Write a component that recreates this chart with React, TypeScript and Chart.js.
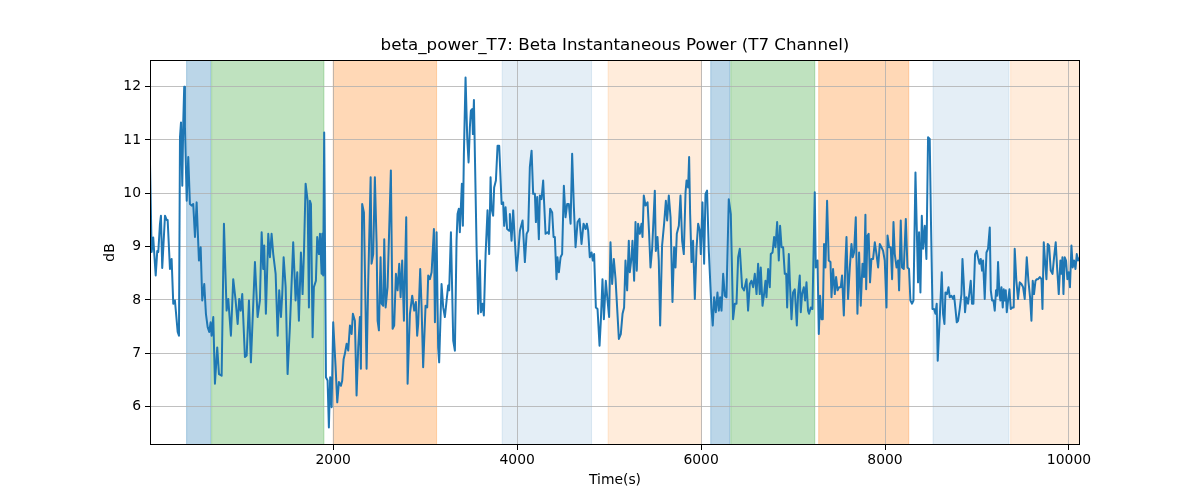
import { useEffect, useRef } from "react";
import { Chart, registerables } from "chart.js";

Chart.register(...registerables);
Chart.defaults.font.family = "'DejaVu Sans', sans-serif";

const chartTitle = "beta_power_T7: Beta Instantaneous Power (T7 Channel)";
const xLabel = "Time(s)";
const yLabel = "dB";
const xTicks = [2000, 4000, 6000, 8000, 10000];
const yTicks = [6, 7, 8, 9, 10, 11, 12];
const xMin = 8;
const xMax = 10120;
const yMin = 5.28;
const yMax = 12.5;

// time (s) of each sample
const timeSec = [
  8, 26, 43, 70, 87, 98, 116, 127, 141, 171, 189, 200, 225, 243, 261, 279, 309, 323, 334, 345,
  359, 370, 380, 388, 407, 424, 442, 461, 478, 497, 515, 540, 559, 576, 598, 616, 635, 652, 667, 678,
  696, 714, 739, 758, 787, 812, 841, 859, 888, 913, 939, 961, 978, 994, 1011, 1040, 1059, 1084, 1105, 1149,
  1178, 1203, 1222, 1239, 1250,
  1268, 1294, 1312, 1330, 1348, 1374, 1396, 1413, 1432, 1446, 1461, 1483, 1504, 1529, 1565, 1591, 1609, 1627, 1649, 1667,
  1682, 1700, 1722, 1736, 1747, 1758, 1776, 1790, 1812, 1826, 1845, 1856, 1874, 1881, 1891, 1902, 1921, 1939, 1953, 1967,
  1983, 2000, 2026, 2044, 2062, 2084, 2098, 2113, 2127, 2146, 2163, 2182, 2200, 2214, 2236, 2254, 2272, 2290, 2301, 2315,
  2334, 2363, 2381, 2407, 2417, 2435, 2453, 2472, 2483, 2497, 2515, 2526, 2544, 2555, 2570, 2591,
  2627, 2646, 2663, 2682, 2700, 2718, 2733, 2750, 2769, 2794, 2809, 2834, 2859, 2881, 2899, 2913, 2924, 2946, 2961, 2978,
  3004, 3022, 3033, 3051, 3070, 3095, 3106, 3124, 3141, 3152, 3178, 3196, 3214, 3233, 3250, 3261, 3280, 3305, 3323, 3341,
  3352, 3366, 3377, 3388, 3399, 3410, 3421, 3439, 3457, 3472, 3486, 3497, 3511, 3519, 3530, 3541, 3559, 3576, 3595, 3606,
  3624, 3638, 3657, 3678, 3696, 3711, 3722, 3739, 3750, 3769, 3787, 3805, 3831, 3848, 3859, 3874, 3891, 3913,
  3921, 3939, 3957, 3975, 3994, 4011, 4030, 4059, 4084, 4103, 4120, 4138, 4157, 4174, 4193, 4204, 4218, 4236, 4247, 4265,
  4283, 4294, 4309, 4331, 4345, 4359, 4381, 4396, 4410, 4428, 4439, 4454, 4472, 4489, 4508, 4526, 4544, 4562, 4581, 4598,
  4617, 4635, 4657, 4678, 4700, 4722, 4744, 4758, 4772, 4790, 4809, 4823, 4837, 4856, 4874, 4896, 4910, 4928, 4943, 4964,
  4983, 5000, 5015, 5033, 5051, 5070, 5087, 5106, 5127, 5146, 5163, 5178, 5196,
  5214, 5225, 5244, 5254, 5272, 5287, 5301, 5315, 5334, 5352, 5363, 5377, 5396, 5418, 5435, 5450, 5468, 5497, 5508, 5526,
  5540, 5555, 5576, 5598, 5617, 5631, 5649, 5668, 5689, 5707, 5722, 5736, 5758, 5776, 5794, 5812, 5831, 5842, 5859, 5870,
  5881, 5896, 5913, 5932, 5950, 5968, 5986, 5997, 6015, 6033, 6048, 6065, 6084, 6102, 6113, 6127, 6142, 6160, 6178, 6193,
  6207, 6222, 6240, 6258, 6276, 6301, 6323, 6348, 6367, 6385, 6403, 6421, 6446, 6468, 6494, 6511,
  6530, 6548, 6566, 6584, 6603, 6620, 6638, 6649, 6668, 6685, 6700, 6711, 6729, 6747, 6758, 6777, 6794, 6809, 6827, 6845,
  6859, 6875, 6892, 6910, 6925, 6936, 6954, 6965, 6983, 7000, 7019, 7041, 7055, 7073, 7084, 7098, 7117, 7131, 7146, 7163,
  7174, 7193, 7211, 7236, 7247, 7266, 7280, 7294, 7309, 7323, 7337, 7352, 7370, 7388, 7407, 7418, 7435, 7454, 7468, 7484,
  7501, 7519, 7533, 7552, 7570, 7581, 7598, 7617, 7635, 7649, 7663, 7682, 7700, 7718, 7736, 7755, 7772, 7787,
  7795, 7808, 7822, 7837, 7852, 7870, 7889, 7907, 7925, 7943, 7961, 7979, 7997, 8016, 8027, 8044, 8062, 8077, 8092, 8106,
  8125, 8142, 8153, 8171, 8185, 8204, 8226, 8244, 8261, 8276, 8294, 8309, 8331, 8345, 8359, 8370, 8385, 8400, 8414, 8432,
  8450, 8468, 8486, 8500, 8516, 8533, 8548, 8562, 8573, 8592, 8617, 8631, 8646, 8657, 8674, 8690, 8704, 8722, 8740, 8751,
  8766, 8780, 8794, 8812, 8831, 8842, 8856, 8870, 8885, 8903, 8918, 8932, 8946, 8961, 8979, 8997, 9011, 9027, 9041, 9055,
  9066, 9084, 9103, 9120, 9139,
  9150, 9164, 9179, 9193, 9207, 9218, 9229, 9244, 9255, 9266, 9280, 9291, 9302, 9313, 9324, 9338, 9353, 9367, 9385, 9399,
  9410, 9428, 9446, 9465, 9483, 9501, 9519, 9541, 9559, 9577, 9592, 9606, 9620, 9636, 9650, 9664, 9683, 9701, 9712, 9726,
  9740, 9755, 9769, 9784, 9802, 9821, 9838, 9856, 9871, 9889, 9907, 9918, 9929, 9940, 9954, 9968, 9983, 9997, 10011, 10027,
  10041, 10055, 10071, 10085, 10099, 10120,
];

// beta power (dB) at each sample
const betaDb = [
  10.55, 8.9, 9.17, 8.46, 8.92, 8.9, 9.42, 9.58, 8.6, 9.58, 9.5, 9.5, 8.58, 8.77, 7.93, 7.99, 7.4, 7.33, 11.05, 11.33,
  10.14, 11.36, 12.0, 11.24, 9.86, 10.68, 9.8, 9.77, 9.8, 9.18, 9.83, 8.74, 8.99, 7.99, 8.3, 7.74, 7.49, 7.4, 7.58, 7.33,
  7.68, 6.43, 7.11, 6.61, 6.58, 9.43, 7.8, 8.02, 7.33, 8.39, 7.99, 7.55, 8.02, 7.8, 8.11, 6.93, 6.96, 7.99, 6.83, 8.71,
  7.68, 7.99, 9.27, 8.58, 9.02,
  7.74, 9.24, 8.8, 9.24, 8.86, 8.49, 7.33, 8.18, 7.68, 8.11, 8.8, 8.24, 6.61, 7.49, 9.08, 7.99, 8.52, 7.61, 8.89, 8.11,
  8.89, 10.18, 9.86, 7.86, 9.86, 9.8, 7.3, 8.24, 8.36, 9.18, 8.86, 9.24, 8.49, 9.24, 8.46, 11.14, 6.55, 6.49, 5.61, 6.55,
  5.99, 7.58, 6.74, 6.08, 6.46, 6.39, 6.49, 6.89, 6.99, 7.18, 7.05, 7.52, 7.36, 7.74, 7.61, 6.21, 7.11, 7.68, 6.71, 9.8,
  9.64, 6.71, 8.36, 10.3, 8.68, 8.86, 10.3, 9.05, 7.61, 7.43, 8.8, 7.93, 7.89, 9.14, 7.86, 8.24,
  10.43, 7.46, 7.52, 8.49, 8.18, 8.68, 8.05, 8.74, 7.61, 9.55, 6.43, 7.74, 8.08, 7.8, 7.96, 7.33, 7.55, 8.58, 7.86, 6.74,
  7.89, 7.86, 8.46, 8.39, 8.52, 9.33, 7.58, 9.27, 7.11, 6.83, 8.3, 7.86, 7.68, 7.99, 8.27, 8.18, 9.27, 7.24, 7.05, 9.11,
  9.61, 9.71, 9.27, 9.74, 10.18, 9.39, 10.74, 12.17, 11.05, 10.58, 11.24, 11.55, 11.58, 11.11, 11.75, 10.68, 8.99, 7.74, 8.74, 7.77,
  7.93, 7.71, 8.86, 9.68, 8.86, 10.3, 9.71, 9.58, 10.11, 10.24, 10.89, 10.89, 9.8, 9.83, 9.39, 9.74, 9.33, 9.3,
  9.61, 9.11, 9.68, 9.11, 8.55, 8.86, 9.3, 9.49, 8.71, 9.24, 9.3, 10.49, 10.8, 9.99, 9.99, 9.46, 9.93, 9.14, 9.96, 9.89,
  10.24, 9.8, 9.24, 9.27, 9.24, 9.71, 9.64, 9.18, 9.18, 8.39, 8.8, 8.52, 8.8, 8.86, 10.14, 9.55, 9.8, 9.8, 9.43, 10.74,
  9.74, 8.99, 9.46, 9.52, 9.05, 9.43, 9.33, 9.43, 9.3, 8.8, 8.89, 8.74, 8.86, 7.86, 7.83, 7.14, 7.61, 8.39, 7.64, 8.36,
  7.99, 7.68, 9.08, 8.3, 8.77, 8.39, 7.86, 7.27, 7.36, 7.74, 7.86, 8.74, 8.18,
  9.11, 8.52, 8.8, 9.11, 8.36, 9.46, 8.55, 9.43, 9.24, 9.43, 9.18, 9.96, 9.77, 9.83, 9.24, 8.61, 8.96, 10.05, 8.92, 9.18,
  8.74, 7.52, 9.02, 9.43, 9.86, 9.49, 9.96, 9.55, 7.96, 8.99, 8.61, 9.24, 9.39, 9.96, 9.11, 8.86, 10.02, 10.24, 10.11, 10.68,
  9.61, 8.71, 9.11, 8.02, 8.96, 9.43, 9.3, 8.86, 9.83, 8.68, 9.99, 10.05, 8.92, 8.24, 7.83, 7.52, 8.05, 7.77, 8.14, 7.8,
  8.05, 7.8, 8.49, 8.08, 8.05, 9.89, 9.61, 7.64, 7.93, 7.93, 8.8, 8.96, 8.24, 8.18, 8.39, 7.8,
  8.3, 8.36, 8.24, 8.49, 8.11, 8.68, 8.11, 8.61, 7.89, 8.11, 8.36, 8.05, 8.58, 8.24, 8.86, 8.89, 9.18, 8.99, 9.46, 8.74,
  9.39, 8.99, 8.99, 8.49, 8.49, 7.86, 8.86, 8.36, 7.64, 8.14, 8.2, 7.52, 8.11, 8.46, 7.77, 8.11, 8.24, 7.99, 8.33, 7.8,
  7.74, 7.86, 7.83, 10.02, 8.61, 8.74, 7.36, 8.08, 7.64, 7.64, 9.05, 8.61, 9.86, 8.74, 8.71, 8.05, 8.58, 8.11, 8.43, 8.18,
  8.24, 8.24, 8.46, 7.71, 8.74, 9.18, 8.02, 8.61, 9.05, 8.8, 8.89, 9.55, 7.74, 8.89, 7.89, 8.68, 8.43, 9.6,
  8.2, 9.2, 9.24, 8.33, 8.77, 8.77, 9.08, 8.86, 8.61, 9.05, 8.99, 8.92, 8.74, 7.86, 9.21, 8.99, 8.99, 8.39, 9.46, 8.86,
  8.61, 8.74, 8.18, 9.49, 8.61, 8.58, 9.52, 8.61, 8.58, 7.99, 7.93, 7.99, 10.39, 9.36, 8.33, 9.27, 8.14, 9.58, 8.96, 9.39,
  8.77, 11.05, 11.02, 9.43, 7.83, 7.83, 7.74, 7.93, 6.86, 7.55, 8.52, 7.74, 7.55, 8.14, 8.11, 8.24, 8.05, 8.08, 8.02, 8.08,
  7.83, 7.58, 7.61, 7.83, 8.11, 8.77, 8.33, 7.77, 8.05, 7.93, 8.14, 8.36, 7.93, 7.93, 8.86, 8.92, 8.8, 8.68, 8.77, 8.55,
  8.74, 8.02, 8.89, 8.96, 9.36,
  8.18, 7.99, 7.99, 7.8, 8.18, 8.08, 8.71, 8.11, 7.99, 8.24, 7.86, 8.2, 7.99, 8.18, 7.77, 7.99, 8.2, 7.83, 7.86, 7.86,
  8.96, 8.36, 8.02, 8.33, 8.3, 8.24, 8.02, 8.8, 8.36, 8.05, 7.61, 8.36, 8.11, 8.36, 8.39, 8.39, 8.43, 8.39, 7.83, 9.08,
  8.74, 8.39, 9.05, 9.02, 8.55, 8.49, 8.8, 9.08, 8.61, 8.11, 8.74, 8.49, 8.8, 8.11, 8.8, 8.74, 8.39, 8.52, 8.24, 9.02,
  8.61, 8.74, 8.58, 8.86, 8.74, 8.8,
];

// shaded epochs (s)
const spanStart = [406, 678, 2000, 3837, 4989, 6105, 6323, 7279, 8522, 9366];
const spanEnd = [667, 1899, 3124, 4809, 6004, 6312, 7236, 8258, 9348, 10120];
const spanKind = ["blue", "green", "orange", "blueLight", "orangeLight", "blue", "green", "orange", "blueLight", "orangeLight"];

const spanColors: Record<string, string> = {
  blue: "rgba(31, 119, 180, 0.3)",
  green: "rgba(44, 160, 44, 0.3)",
  orange: "rgba(255, 127, 14, 0.3)",
  blueLight: "rgba(31, 119, 180, 0.12)",
  orangeLight: "rgba(255, 127, 14, 0.15)",
};

const spansPlugin = {
  id: "spans",
  beforeDraw(chart: any) {
    const { ctx, chartArea, scales } = chart;
    ctx.save();
    ctx.beginPath();
    ctx.rect(chartArea.left, chartArea.top, chartArea.width, chartArea.height);
    ctx.clip();
    spanStart.forEach((s, i) => {
      const x0 = scales.x.getPixelForValue(s);
      const x1 = scales.x.getPixelForValue(spanEnd[i]);
      const c = spanColors[spanKind[i]];
      ctx.fillStyle = c;
      ctx.fillRect(x0, chartArea.top, x1 - x0, chartArea.height);
      ctx.strokeStyle = c;
      ctx.lineWidth = 1;
      ctx.strokeRect(x0, chartArea.top, x1 - x0, chartArea.height);
    });
    ctx.restore();
  },
  afterDraw(chart: any) {
    const { ctx, chartArea } = chart;
    ctx.save();
    // axes frame
    ctx.strokeStyle = "#000";
    ctx.lineWidth = 1;
    ctx.strokeRect(chartArea.left + 0.5, chartArea.top + 0.5, chartArea.width - 1, chartArea.height - 1);
    // title centred over the axes
    ctx.fillStyle = "#000";
    ctx.font = "16.7px 'DejaVu Sans', sans-serif";
    ctx.textAlign = "center";
    ctx.textBaseline = "middle";
    ctx.fillText(chartTitle, (chartArea.left + chartArea.right) / 2, 46);
    ctx.restore();
  },
};

export default function App() {
  const canvasRef = useRef<HTMLCanvasElement>(null);

  useEffect(() => {
    const ctx = canvasRef.current!.getContext("2d")!;
    const chart = new Chart(ctx, {
      type: "line",
      data: {
        datasets: [
          {
            label: "beta_power_T7",
            data: timeSec.map((t, i) => ({ x: t, y: betaDb[i] })),
            borderColor: "#1f77b4",
            borderWidth: 2,
            pointRadius: 0,
            tension: 0,
            fill: false,
            borderJoinStyle: "round",
          },
        ],
      },
      options: {
        animation: false,
        responsive: false,
        devicePixelRatio: 1,
        layout: { padding: { left: 100, right: 120, top: 60, bottom: 0 } },
        plugins: {
          legend: { display: false },
          title: { display: false },
          tooltip: { enabled: false },
        },
        scales: {
          x: {
            type: "linear",
            min: xMin,
            max: xMax,
            afterBuildTicks: (axis: any) => {
              axis.ticks = xTicks.map((value) => ({ value }));
            },
            afterFit: (axis: any) => {
              axis.height = 55;
            },
            grid: { color: "#b0b0b0", lineWidth: 0.8, tickColor: "#000", tickLength: 5, tickWidth: 1 },
            border: { display: false },
            ticks: {
              color: "#000",
              font: { size: 13.9 },
              padding: 2,
              maxRotation: 0,
              autoSkip: false,
              callback: (v: any) => String(v),
            },
            title: {
              display: true,
              text: xLabel,
              color: "#000",
              font: { size: 13.9 },
              padding: { top: 0, bottom: 11 },
            },
          },
          y: {
            min: yMin,
            max: yMax,
            afterBuildTicks: (axis: any) => {
              axis.ticks = yTicks.map((value) => ({ value }));
            },
            afterFit: (axis: any) => {
              axis.width = 50;
            },
            grid: { color: "#b0b0b0", lineWidth: 0.8, tickColor: "#000", tickLength: 5, tickWidth: 1 },
            border: { display: false },
            ticks: {
              color: "#000",
              font: { size: 13.9 },
              padding: 4,
              autoSkip: false,
              callback: (v: any) => String(v),
            },
            title: {
              display: true,
              text: yLabel,
              color: "#000",
              font: { size: 13.9 },
              padding: { top: 2, bottom: 0 },
            },
          },
        },
      },
      plugins: [spansPlugin],
    });

    return () => {
      chart.destroy();
    };
  }, []);

  return (
    <div style={{ position: "absolute", left: 0, top: 0, width: 1200, height: 500 }}>
      <canvas ref={canvasRef} width={1200} height={500} style={{ display: "block" }}></canvas>
    </div>
  );
}
